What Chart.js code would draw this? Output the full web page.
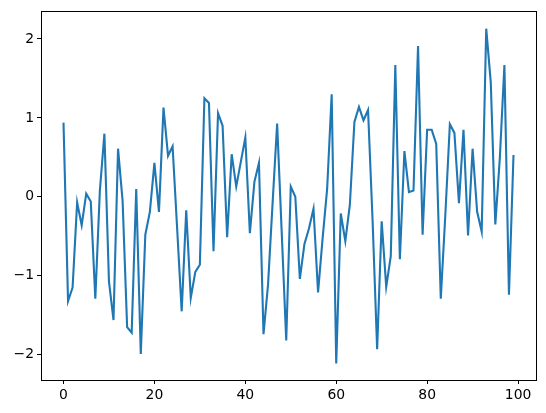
<!DOCTYPE html>
<html>
<head>
<meta charset="utf-8">
<script src="https://cdn.jsdelivr.net/npm/chart.js@4"></script>
<style>
  html, body { margin: 0; padding: 0; background: #fff; }
  #wrap { width: 546px; height: 413px; position: relative; }
</style>
</head>
<body>
<div id="wrap"><canvas id="chart"></canvas></div>
<script>
// series values (index 0..99)
const seriesValues = [
  0.94, -1.32, -1.15, -0.07, -0.36, 0.04, -0.06, -1.29, 0.08, 0.80,
  -1.07, -1.56, 0.61, -0.05, -1.65, -1.72, 0.10, -1.99, -0.48, -0.19,
  0.43, -0.19, 1.13, 0.52, 0.64, -0.40, -1.45, -0.17, -1.28, -0.95,
  -0.86, 1.25, 1.19, -0.69, 1.06, 0.90, -0.51, 0.54, 0.13, 0.44,
  0.75, -0.46, 0.19, 0.43, -1.74, -1.11, -0.08, 0.93, -0.44, -1.82,
  0.13, 0.00, -1.04, -0.60, -0.40, -0.15, -1.21, -0.53, 0.10, 1.30,
  -2.11, -0.21, -0.56, -0.10, 0.95, 1.14, 0.97, 1.10, -0.30, -1.93,
  -0.31, -1.14, -0.75, 1.67, -0.79, 0.58, 0.06, 0.08, 1.91, -0.48,
  0.85, 0.85, 0.67, -1.29, -0.23, 0.92, 0.81, -0.08, 0.85, -0.49,
  0.61, -0.19, -0.44, 2.13, 1.45, -0.35, 0.50, 1.67, -1.24, 0.53
];
const xTicks = [0, 20, 40, 60, 80, 100];
const yTicks = [-2, -1, 0, 1, 2];

const points = seriesValues.map((v, i) => ({ x: i, y: v }));
const tickFont = { family: "'DejaVu Sans', sans-serif", size: 13.9 };
const minus = (v) => String(v).replace("-", "\u2212");

// matplotlib-style full frame round the plot area
const frame = {
  id: "frame",
  afterDraw(chart) {
    const { ctx, chartArea: a } = chart;
    ctx.save();
    ctx.strokeStyle = "#000";
    ctx.lineWidth = 1;
    ctx.strokeRect(Math.round(a.left) + 0.5, Math.round(a.top) + 0.5,
      Math.round(a.right - a.left), Math.round(a.bottom - a.top));
    ctx.restore();
  },
};

new Chart(document.getElementById("chart"), {
  type: "line",
  data: {
    datasets: [{
      data: points,
      borderColor: "#1f77b4",
      borderWidth: 2.1,
      pointRadius: 0,
      tension: 0,
      fill: false,
    }],
  },
  options: {
    responsive: true,
    maintainAspectRatio: false,
    animation: false,
    layout: { padding: { left: 0, right: 10, top: 10, bottom: 0 } },
    plugins: { legend: { display: false }, tooltip: { enabled: false } },
    scales: {
      x: {
        type: "linear",
        min: -4.95,
        max: 103.95,
        afterBuildTicks: (s) => { s.ticks = xTicks.map((v) => ({ value: v })); },
        afterFit: (s) => { s.height = 33; },
        grid: { drawOnChartArea: false, drawTicks: true, tickLength: 4, color: "#000" },
        border: { display: false },
        ticks: { font: tickFont, color: "#000", padding: 3, maxRotation: 0,
          callback: (v) => minus(v) },
      },
      y: {
        min: -2.32,
        max: 2.35,
        afterBuildTicks: (s) => { s.ticks = yTicks.map((v) => ({ value: v })); },
        afterFit: (s) => { s.width = 41; },
        grid: { drawOnChartArea: false, drawTicks: true, tickLength: 4, color: "#000" },
        border: { display: false },
        ticks: { font: tickFont, color: "#000", padding: 3,
          callback: (v) => minus(v) },
      },
    },
  },
  plugins: [frame],
});
</script>
</body>
</html>
